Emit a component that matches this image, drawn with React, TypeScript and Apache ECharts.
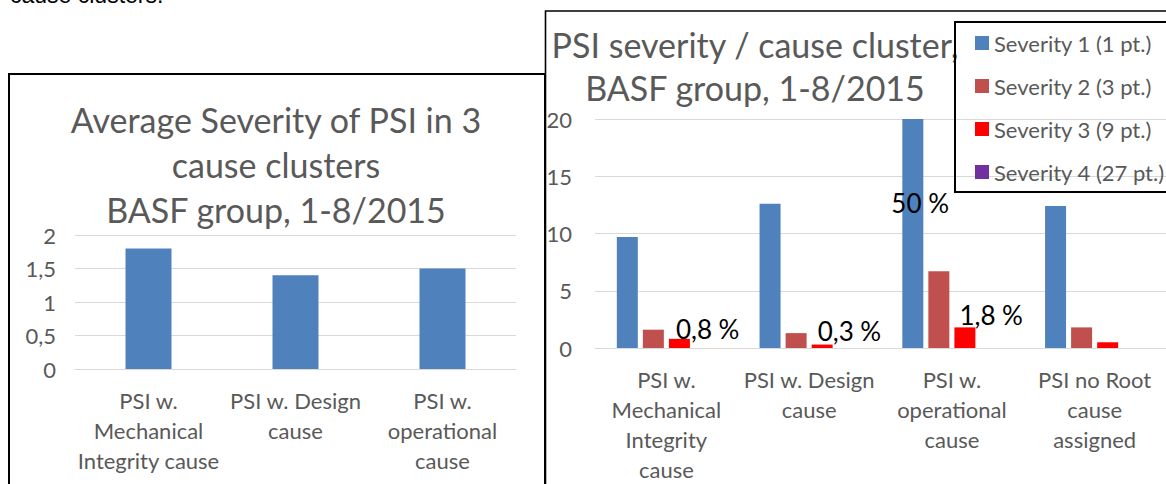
import React, { useEffect, useRef } from 'react';
import * as echarts from 'echarts';

// ---------- data ----------
const leftCategories = [
  'PSI w.\nMechanical\nIntegrity cause',
  'PSI w. Design\ncause',
  'PSI w.\noperational\ncause',
];
const leftValues = [1.8, 1.4, 1.5];
const leftAxisMin = 0;
const leftAxisMax = 2;
const leftAxisInterval = 0.5;

const rightCategories = [
  'PSI w.\nMechanical\nIntegrity\ncause',
  'PSI w. Design\ncause',
  'PSI w.\noperational\ncause',
  'PSI no Root\ncause\nassigned',
];
const seriesNames = [
  'Severity 1 (1 pt.)',
  'Severity 2 (3 pt.)',
  'Severity 3 (9 pt.)',
  'Severity 4 (27 pt.)',
];
const severity1 = [9.7, 12.6, 20, 12.4];
const severity2 = [1.6, 1.3, 6.7, 1.8];
const severity3 = [0.8, 0.3, 1.8, 0.5];
const severity4 = [0, 0, 0, 0];
const severity1Labels = ['', '', '50 %', ''];
const severity3Labels = ['0,8 %', '0,3 %', '1,8 %', ''];
const rightAxisMin = 0;
const rightAxisMax = 20;
const rightAxisInterval = 5;

const leftTitle = 'Average Severity of PSI in 3\ncause clusters\nBASF group, 1-8/2015';
const rightTitle = 'PSI severity / cause cluster,\nBASF group, 1-8/2015';
const cutText = 'cause clusters.';

// ---------- styles ----------
const FONT = 'Lato';
const GRAY = '#595959';
const GRIDC = '#d9d9d9';
const COLORS = ['#4F81BD', '#C0504D', '#FF0000', '#7030A0'];

const severity1LabelPos: Array<[number, number]> = [[0, 0], [0, 0], [-11, 84], [0, 0]];
const severity3LabelPos: Array<[number, number]> = [[7, -10], [6, -14], [5, -12], [0, 0]];

const withLabels = (vals: number[], labels: string[], pos: Array<[number, number]>) =>
  vals.map((v, i) =>
    labels[i]
      ? {
          value: v,
          label: {
            show: true,
            formatter: labels[i],
            position: pos[i],
            align: 'left',
            verticalAlign: 'middle',
            color: '#000',
            fontSize: 26,
            fontFamily: FONT,
          },
        }
      : v
  );

const commaFmt = (v: number) => String(v).replace('.', ',');

export default function App() {
  const ref = useRef<HTMLDivElement>(null);

  useEffect(() => {
    if (!ref.current) return;
    const chart = echarts.init(ref.current, undefined, { renderer: 'svg' });

    const xAxisBase = {
      type: 'category',
      axisTick: { show: false },
      axisLine: { lineStyle: { color: GRIDC, width: 1 } },
      axisLabel: {
        interval: 0,
        color: GRAY,
        fontSize: 22,
        lineHeight: 30,
        margin: 16,
        fontFamily: FONT,
      },
    };
    const yAxisBase = {
      type: 'value',
      axisLine: { show: false },
      axisTick: { show: false },
      splitLine: { lineStyle: { color: GRIDC, width: 1 } },
    };

    chart.setOption({
      animation: false,
      textStyle: { fontFamily: FONT },
      graphic: [
        {
          type: 'text',
          x: 10,
          y: 6,
          style: {
            text: cutText,
            fill: '#000',
            fontSize: 23,
            fontFamily: 'Liberation Sans',
            align: 'left',
            verticalAlign: 'bottom',
          },
        },
        {
          type: 'rect',
          shape: { x: 9, y: 74, width: 536, height: 440 },
          style: { fill: 'none', stroke: '#000', lineWidth: 2 },
          z: 100,
        },
        {
          type: 'rect',
          shape: { x: 545.5, y: 11, width: 660, height: 500 },
          style: { fill: 'none', stroke: '#000', lineWidth: 1.6 },
          z: 100,
        },
        {
          type: 'rect',
          shape: { x: 955, y: 22, width: 260, height: 170 },
          style: { fill: 'none', stroke: '#000', lineWidth: 2 },
          z: 100,
        },
        {
          type: 'text',
          x: 276,
          y: 164,
          style: {
            text: leftTitle,
            fill: GRAY,
            fontSize: 34,
            fontFamily: FONT,
            lineHeight: 45,
            align: 'center',
            verticalAlign: 'middle',
          },
        },
        {
          type: 'text',
          x: 755,
          y: 66,
          style: {
            text: rightTitle,
            fill: GRAY,
            fontSize: 34,
            fontFamily: FONT,
            lineHeight: 43,
            align: 'center',
            verticalAlign: 'middle',
          },
        },
      ],
      grid: [
        { left: 75, width: 441, top: 235, height: 134 },
        { left: 595, width: 574, top: 119, height: 234 },
      ],
      xAxis: [
        { ...xAxisBase, gridIndex: 0, data: leftCategories },
        { ...xAxisBase, gridIndex: 1, data: rightCategories },
      ],
      yAxis: [
        {
          ...yAxisBase,
          gridIndex: 0,
          min: leftAxisMin,
          max: leftAxisMax,
          interval: leftAxisInterval,
          axisLabel: { color: GRAY, fontSize: 22, margin: 19, fontFamily: FONT, formatter: commaFmt },
        },
        {
          ...yAxisBase,
          gridIndex: 1,
          min: rightAxisMin,
          max: rightAxisMax,
          interval: rightAxisInterval,
          axisLabel: { color: GRAY, fontSize: 22, margin: 23, fontFamily: FONT, formatter: commaFmt },
        },
      ],
      legend: {
        data: seriesNames,
        orient: 'vertical',
        left: 975,
        top: 31,
        padding: 0,
        icon: 'rect',
        itemWidth: 14,
        itemHeight: 14,
        itemGap: 19,
        textStyle: { color: GRAY, fontSize: 22, lineHeight: 24, fontFamily: FONT },
      },
      series: [
        {
          name: 'Average Severity',
          type: 'bar',
          xAxisIndex: 0,
          yAxisIndex: 0,
          barWidth: 46,
          itemStyle: { color: COLORS[0] },
          data: leftValues,
        },
        {
          name: seriesNames[0],
          type: 'bar',
          xAxisIndex: 1,
          yAxisIndex: 1,
          barWidth: 21,
          barGap: '24%',
          itemStyle: { color: COLORS[0] },
          data: withLabels(severity1, severity1Labels, severity1LabelPos),
        },
        {
          name: seriesNames[1],
          type: 'bar',
          xAxisIndex: 1,
          yAxisIndex: 1,
          barWidth: 21,
          barGap: '24%',
          itemStyle: { color: COLORS[1] },
          data: severity2,
        },
        {
          name: seriesNames[2],
          type: 'bar',
          xAxisIndex: 1,
          yAxisIndex: 1,
          barWidth: 21,
          barGap: '24%',
          itemStyle: { color: COLORS[2] },
          data: withLabels(severity3, severity3Labels, severity3LabelPos),
        },
        {
          name: seriesNames[3],
          type: 'bar',
          xAxisIndex: 1,
          yAxisIndex: 1,
          barWidth: 21,
          barGap: '24%',
          itemStyle: { color: COLORS[3] },
          data: severity4,
        },
      ],
    });

    return () => chart.dispose();
  }, []);

  return (
    <div
      ref={ref}
      style={{ position: 'absolute', left: 0, top: 0, width: 1166, height: 484, background: '#fff' }}
    />
  );
}
